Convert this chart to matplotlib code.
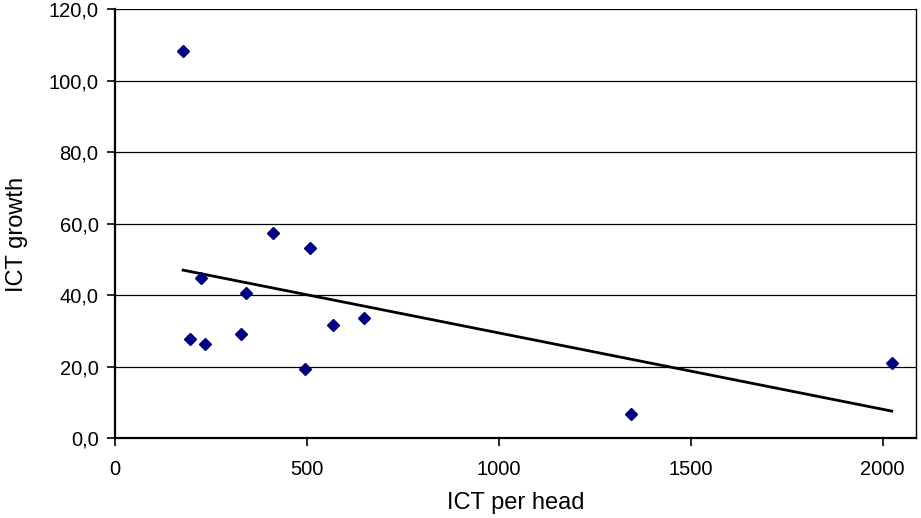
import matplotlib
matplotlib.use("Agg")
import matplotlib.pyplot as plt
from matplotlib.ticker import FuncFormatter
import numpy as np

# ICT per head vs ICT growth
ict_per_head = [178.5, 195.2, 224.5, 236.7, 329.3, 341.5, 411.6, 496.6,
                507.8, 567.6, 649.9, 1343.8, 2023.7]
ict_growth = [108.2, 27.7, 44.7, 26.4, 29.2, 40.7, 57.3, 19.5,
              53.3, 31.7, 33.7, 6.8, 21.1]

x_ticks = [0, 500, 1000, 1500, 2000]
y_ticks = [0, 20, 40, 60, 80, 100, 120]

plt.rcParams['font.family'] = ['Liberation Sans', 'DejaVu Sans']

fig = plt.figure(figsize=(9.21, 5.18), dpi=100)
ax = fig.add_axes([0.1244, 0.1539, 0.8702, 0.8287])

for yv in y_ticks[1:]:
    ax.axhline(yv, color='black', lw=0.9, zorder=1)

ax.plot(ict_per_head, ict_growth, linestyle='none', marker='D',
        markersize=6.3, color='#000080', zorder=3)

# linear trend line
x = np.array(ict_per_head)
k, b = np.polyfit(x, np.array(ict_growth), 1)
xs = np.array([x.min(), x.max()])
ax.plot(xs, k * xs + b, color='black', lw=2, zorder=2)

ax.set_xlim(0, 2087)
ax.set_ylim(0, 120)
ax.set_xticks(x_ticks)
ax.set_yticks(y_ticks)
ax.yaxis.set_major_formatter(FuncFormatter(lambda v, p: f"{v:.1f}".replace('.', ',')))
ax.tick_params(axis='both', direction='out', length=5.5, width=1.2, labelsize=14.5, colors='black')
ax.tick_params(axis='x', pad=10)
ax.tick_params(axis='y', pad=6)

for side in ['left', 'bottom']:
    ax.spines[side].set_linewidth(1.6)
ax.spines['top'].set_visible(False)
ax.spines['right'].set_linewidth(1.0)

ax.set_xlabel('ICT per head', fontsize=17, va='center')
ax.set_ylabel('ICT growth', fontsize=17, va='center')
ax.xaxis.set_label_coords(0.5, -0.151)
ax.yaxis.set_label_coords(-0.1218, 0.475)

fig.savefig('out.png', dpi=100)
